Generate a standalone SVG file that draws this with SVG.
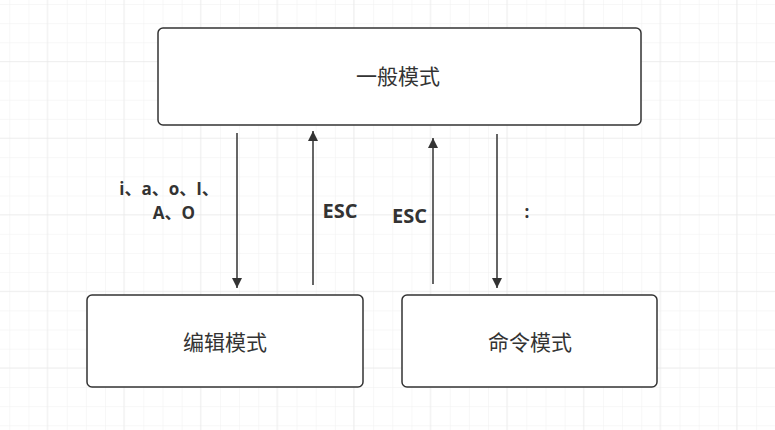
<svg xmlns="http://www.w3.org/2000/svg" width="775" height="430" viewBox="0 0 775 430">
<defs>
<pattern id="minor" x="9.3" y="4" width="19.15" height="19.15" patternUnits="userSpaceOnUse">
<path d="M0 0V19.15M0 0H19.15" fill="none" stroke="#f0f0f0" stroke-width="1"/>
</pattern>
<pattern id="major" x="46.7" y="61" width="76.6" height="76.6" patternUnits="userSpaceOnUse">
<path d="M0 0V76.6M0 0H76.6" fill="none" stroke="#e6e6e6" stroke-width="1"/>
</pattern>
<marker id="ah" viewBox="0 0 10 10" refX="10" refY="5" markerWidth="10" markerHeight="10" markerUnits="userSpaceOnUse" orient="auto">
<path d="M0 0L10 5L0 10z" fill="#333"/>
</marker>
<style>
.box{fill:#fff;stroke:#333;stroke-width:1.5}
.t{font-family:"Noto Sans CJK SC","Noto Sans",sans-serif;font-size:21px;fill:#333;text-anchor:middle}
.l{font-family:"Open Sans","Noto Sans CJK SC",sans-serif;font-size:17px;font-weight:bold;fill:#333;text-anchor:middle}
.e{font-size:20px}
.c{stroke:#333;stroke-width:1.5;fill:none;marker-end:url(#ah)}
</style>
</defs>
<rect width="775" height="430" fill="#fff"/>
<rect width="775" height="430" fill="url(#minor)"/>
<rect width="775" height="430" fill="url(#major)"/>
<g id="normal"><rect class="box" x="158" y="28" width="483" height="97" rx="5"/><text class="t" x="398" y="84">一般模式</text></g>
<g id="edit"><rect class="box" x="87" y="295" width="276" height="92" rx="5"/><text class="t" x="225" y="350">编辑模式</text></g>
<g id="command"><rect class="box" x="402" y="295" width="255" height="92" rx="5"/><text class="t" x="530" y="350">命令模式</text></g>
<g id="connectors">
<path class="c" d="M237 133V288"/>
<path class="c" d="M313 285V131"/>
<path class="c" d="M433 284V138"/>
<path class="c" d="M497 134V288"/>
<text class="l" x="169" y="195">i、a、o、I、</text>
<text class="l" x="174" y="219">A、O</text>
<text class="l e" x="340" y="218">ESC</text>
<text class="l e" x="409.5" y="223">ESC</text>
<text class="l" x="527" y="218">:</text>
</g>
</svg>
